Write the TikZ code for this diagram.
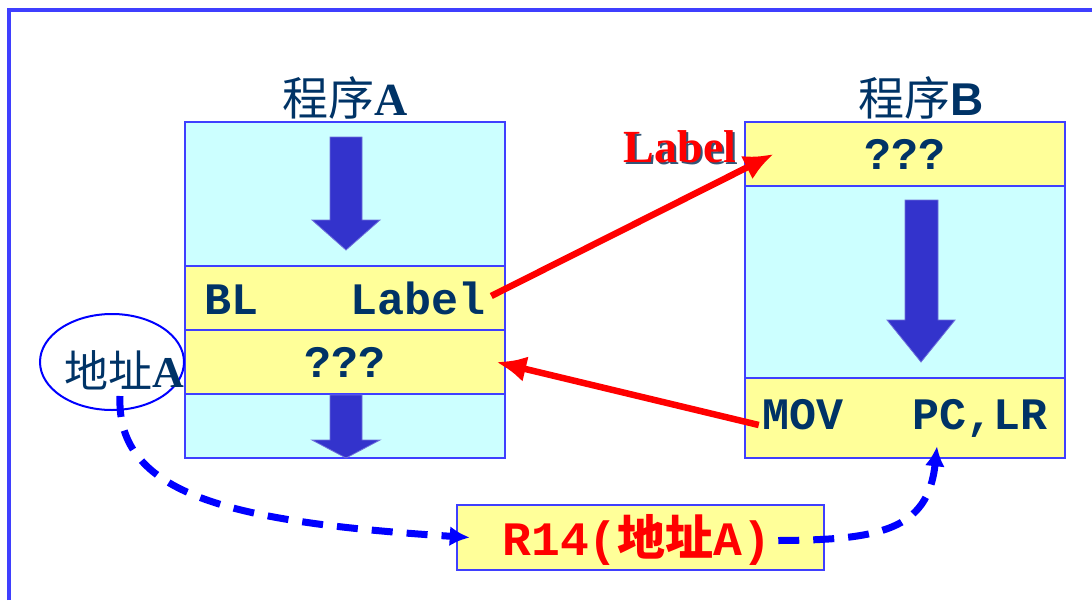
\documentclass[tikz,border=0pt]{standalone}
\usepackage{fontspec}
\setmainfont{Liberation Serif}
\setmonofont{Liberation Mono}
\newfontfamily\cjk{Noto Sans CJK SC}
\newfontfamily\sansf{Liberation Sans}
\usetikzlibrary{shapes.geometric,arrows.meta}
\definecolor{navy}{HTML}{003366}
\definecolor{cyanf}{HTML}{CCFFFF}
\definecolor{yel}{HTML}{FFFF99}
\definecolor{bord}{HTML}{3F3FFF}
\definecolor{barrow}{HTML}{3333CC}
\definecolor{shadowc}{HTML}{335577}
\begin{document}
\begin{tikzpicture}[x=1pt,y=-1pt,
  cell/.style={draw=bord,line width=2.5pt,minimum width=320pt,inner sep=0pt},
  cy/.style={cell,fill=cyanf},
  ye/.style={cell,fill=yel},
  code/.style={font=\ttfamily\bfseries\fontsize{45}{50}\selectfont,text=navy},
  title/.style={font=\fontsize{46}{50}\selectfont,text=navy,inner sep=0pt},
  blockarrow/.style={fill=barrow,draw=barrow!70!white,line width=0.8pt},
  redarrow/.style={draw=red,line width=6.5pt,-{Latex[length=30pt,width=26pt]}},
  bluedash/.style={draw=blue,line width=7pt,dash pattern=on 21pt off 14pt,-{Latex[length=20pt,width=20pt]}}
]
\useasboundingbox (0,0) rectangle (1092,600);
% frame
\draw[bord,line width=4pt] (9,600) -- (9,10) -- (1092,10);

% program A
\node[cy,minimum height=144pt] (a1) at (345,194) {};
\node[ye,minimum height=64pt] (a2) at (345,298) {};
\node[code] (a2t) at (345,298) {BL\hspace{2.05em}Label};
\node[ye,minimum height=64pt] (a3) at (345,362) {};
\node[code] (a3t) at (345,362) {???};
\node[cy,minimum height=64pt] (a4) at (345,426) {};
\node[title] (ta) at (345,98) {{\cjk 程序}\textbf{A}};

% program B
\node[ye,minimum height=64pt] (b1) at (905,154) {};
\node[code] (b1t) at (905,154) {???};
\node[cy,minimum height=192pt] (b2) at (905,282) {};
\node[ye,minimum height=80pt] (b3) at (905,418) {};
\node[code] (b3t) at (905,418) {MOV\hspace{1.55em}PC,LR};
\node[title] (tb) at (921,98) {{\cjk 程序}{\sansf\bfseries B}};

% block arrows
\draw[blockarrow] (330,137) -- (362,137) -- (362,220) -- (380,220) -- (346,250) -- (312,220) -- (330,220) -- cycle;
\draw[blockarrow] (330,395) -- (362,395) -- (362,440) -- (380,440) -- (346,458) -- (312,440) -- (330,440) -- cycle;
\draw[blockarrow] (905,200) -- (938,200) -- (938,320) -- (955,320) -- (921,362) -- (887,320) -- (905,320) -- cycle;

% Label text with shadow
\node[font=\bfseries\fontsize{46}{50}\selectfont,text=shadowc] at (682,149) {Label};
\node[font=\bfseries\fontsize{46}{50}\selectfont,text=red] (lbl) at (680,147) {Label};

% ellipse
\node[draw=blue,line width=2pt,ellipse,minimum width=144pt,minimum height=96pt,inner sep=0pt] (ell) at (112,362) {};
\node[title,font=\fontsize{44}{48}\selectfont] (ellt) at (124,370) {{\cjk 地址}\textbf{A}};

% R14 box
\node[draw=bord,line width=2.5pt,fill=yel,minimum width=367pt,minimum height=65pt,inner sep=0pt] (r14) at (640.5,537.5) {};
\node[font=\ttfamily\bfseries\fontsize{48}{50}\selectfont,text=red] (r14t) at (637,540) {R14({\cjk 地址}A)};

% red arrows
\draw[redarrow] ([xshift=-15pt,yshift=2pt]a2.east) -- ([xshift=30pt]b1.west);
\draw[redarrow] ([xshift=15pt,yshift=-7pt]b3.west) -- ([xshift=-10pt]a3.east);

% blue dashed arrows
\draw[bluedash] ([xshift=8pt,yshift=15pt]ell.south) .. controls (116,495) and (230,522) .. ([xshift=14pt]r14.west);
\draw[bluedash] ([xshift=-47pt,yshift=-3pt]r14.east) .. controls (880,540) and (928,530) .. ([xshift=32pt,yshift=13pt]b3.south);
\end{tikzpicture}
\end{document}
